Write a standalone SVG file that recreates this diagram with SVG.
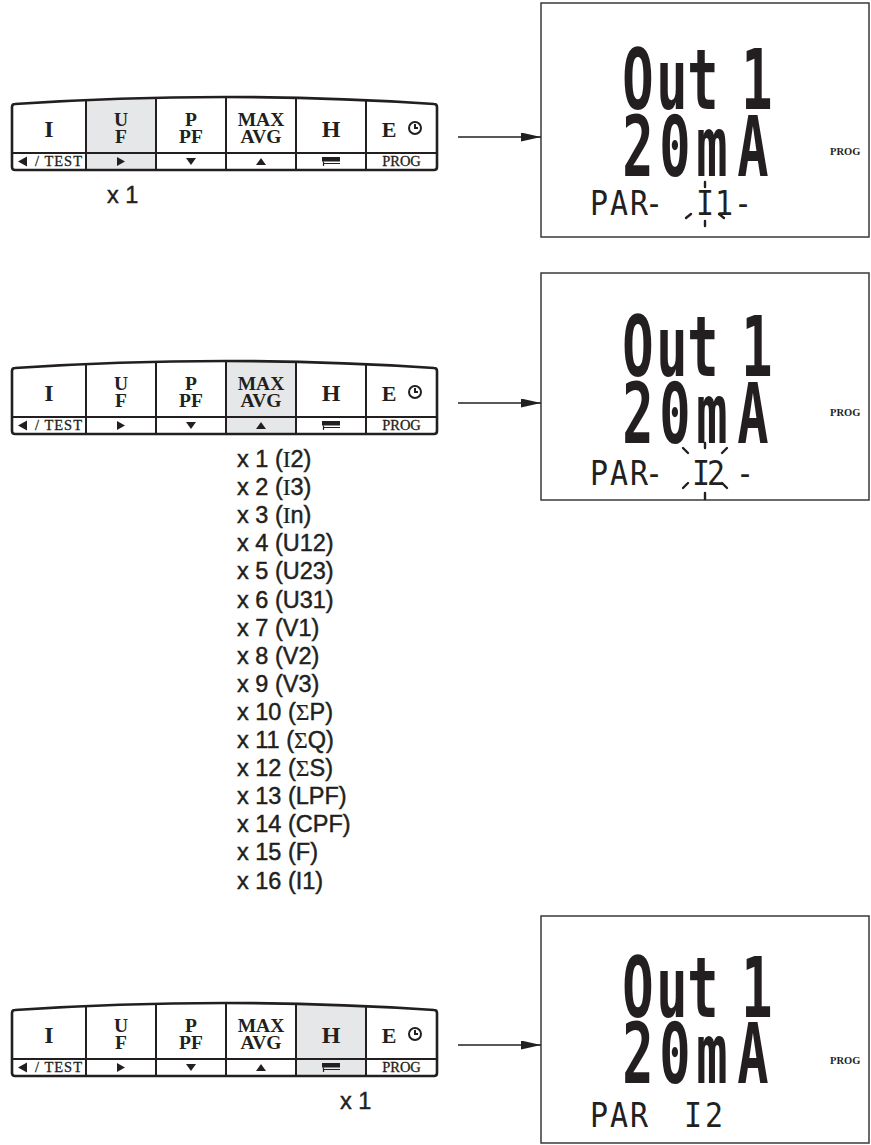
<svg xmlns="http://www.w3.org/2000/svg" width="871" height="1145" viewBox="0 0 871 1145">
<style>
.bg{fill:#fff}
.kb{fill:none;stroke:#231f20;stroke-width:2.6;stroke-linejoin:round}
.kd{fill:none;stroke:#231f20;stroke-width:2}
.hl{fill:#e6e7e8}
.k1{font-family:"Liberation Serif",serif;font-weight:bold;font-size:24px;fill:#231f20;text-anchor:middle}
.ke{font-family:"Liberation Serif",serif;font-weight:bold;font-size:22px;fill:#231f20;text-anchor:middle}
.k2{font-family:"Liberation Serif",serif;font-weight:bold;font-size:19.5px;fill:#231f20;text-anchor:middle}
.ks{font-family:"Liberation Serif",serif;font-size:14.5px;fill:#231f20;stroke:#231f20;stroke-width:0.3}
.ksm{text-anchor:middle}
.ic{fill:#231f20}
.clk{fill:none;stroke:#231f20;stroke-width:2}
.lst{font-family:"Liberation Sans",Arial,sans-serif;font-size:23.5px;fill:#231f20;stroke:#231f20;stroke-width:0.45}
.sf{font-family:"Liberation Serif",serif;stroke-width:0.2}
.box{fill:#fff;stroke:#3a3a3a;stroke-width:1.5}
.dt{font-family:"DejaVu Sans Mono",monospace;fill:#231f20;text-anchor:middle}
.sb{font-weight:bold;font-size:52px}
.ss{font-weight:normal;font-size:30px}
.pg{font-family:"Liberation Serif",serif;font-weight:bold;font-size:10.5px;fill:#231f20}
.tk{stroke:#231f20;stroke-width:2.4;stroke-linecap:round;fill:none}
.ar{stroke:#231f20;stroke-width:1.5;fill:none}
</style>
<defs>
<marker id="ah" markerUnits="userSpaceOnUse" viewBox="0 0 20 9" refX="20" refY="4.5" markerWidth="20" markerHeight="9" orient="auto">
<path d="M0,0 L20,4.5 L0,9 Z" fill="#231f20"/>
</marker>
</defs>
<rect class="bg" x="0" y="0" width="871" height="1145"/>

<!-- Keypad 1 -->
<g id="keypad1">
<polygon class="hl" points="86,100.1 121,98.7 156,97.75 156,170 86,170"/>
<path class="kb" d="M12,167 V107 Q12,104 15,104 Q224.5,90 434,104 Q437,104 437,107 V167 Q437,170 434,170 H15 Q12,170 12,167 Z"/>
<path class="kd" d="M12,153 H437 M86,100.1 V170 M156,97.75 V170 M226,97 V170 M296,97.8 V170 M366,100.2 V170"/>
<text class="k1" x="49" y="137">I</text>
<text class="k2"><tspan x="121" y="126">U</tspan><tspan x="121" y="143">F</tspan></text>
<text class="k2"><tspan x="191" y="126">P</tspan><tspan x="191" y="143">PF</tspan></text>
<text class="k2"><tspan x="261" y="126">MAX</tspan><tspan x="261" y="143">AVG</tspan></text>
<text class="k1" x="331" y="137">H</text>
<text class="ke" x="389" y="137">E</text>
<circle class="clk" cx="415" cy="128" r="6"/><path class="clk" d="M415,124 V128 H418" stroke-width="1.6"/>
<polygon class="ic" points="18,161.5 27,156.5 27,166.5"/>
<text class="ks" x="35" y="166.3" textLength="47" lengthAdjust="spacing">/ TEST</text>
<polygon class="ic" points="117,157 117,166 125,161.5"/>
<polygon class="ic" points="186,158 196,158 191,165"/>
<polygon class="ic" points="256,165 266,165 261,158"/>
<rect class="ic" x="322" y="157" width="18" height="4.5"/>
<path d="M340,163.5 H323.5 M323.5,161.5 V166" stroke="#231f20" stroke-width="1.2" fill="none"/>
<text class="ks ksm" x="401.5" y="166.3">PROG</text>
</g>
<text id="count1" class="lst" x="107" y="203">x 1</text>

<!-- Display 1 -->
<g id="display1">
<rect class="box" x="541" y="3" width="328" height="234"/>
<text class="dt sb" transform="scale(1,1.6)"><tspan x="638 672 703 733 757" y="68.13">Out 1</tspan><tspan x="638 675 712 753" y="110">20mA</tspan></text>
<text class="dt ss" transform="scale(1,1.15)" x="599 619 639 654 705 724 743" y="186.96">PAR-I1-</text>
<path class="tk" d="M705,182 V187 M705,221 V226 M686,218 L691,214 M719,214 L724,218"/>
<text class="pg" x="830" y="155">PROG</text>
</g>

<!-- Keypad 2 -->
<g id="keypad2">
<polygon class="hl" points="226,361 261,361.2 296,361.8 296,434 226,434"/>
<path class="kb" d="M12,431 V371 Q12,368 15,368 Q224.5,354 434,368 Q437,368 437,371 V431 Q437,434 434,434 H15 Q12,434 12,431 Z"/>
<path class="kd" d="M12,417 H437 M86,364.1 V434 M156,361.75 V434 M226,361 V434 M296,361.8 V434 M366,364.2 V434"/>
<text class="k1" x="49" y="401">I</text>
<text class="k2"><tspan x="121" y="390">U</tspan><tspan x="121" y="407">F</tspan></text>
<text class="k2"><tspan x="191" y="390">P</tspan><tspan x="191" y="407">PF</tspan></text>
<text class="k2"><tspan x="261" y="390">MAX</tspan><tspan x="261" y="407">AVG</tspan></text>
<text class="k1" x="331" y="401">H</text>
<text class="ke" x="389" y="401">E</text>
<circle class="clk" cx="415" cy="392" r="6"/><path class="clk" d="M415,388 V392 H418" stroke-width="1.6"/>
<polygon class="ic" points="18,425.5 27,420.5 27,430.5"/>
<text class="ks" x="35" y="430.3" textLength="47" lengthAdjust="spacing">/ TEST</text>
<polygon class="ic" points="117,421 117,430 125,425.5"/>
<polygon class="ic" points="186,422 196,422 191,429"/>
<polygon class="ic" points="256,429 266,429 261,422"/>
<rect class="ic" x="322" y="421" width="18" height="4.5"/>
<path d="M340,427.5 H323.5 M323.5,425.5 V430" stroke="#231f20" stroke-width="1.2" fill="none"/>
<text class="ks ksm" x="401.5" y="430.3">PROG</text>
</g>

<g id="list">
<text class="lst" x="237" y="467">x 1 (<tspan class="sf">I</tspan>2)</text>
<text class="lst" x="237" y="495.1">x 2 (<tspan class="sf">I</tspan>3)</text>
<text class="lst" x="237" y="523.2">x 3 (<tspan class="sf">I</tspan>n)</text>
<text class="lst" x="237" y="551.3">x 4 (U12)</text>
<text class="lst" x="237" y="579.4">x 5 (U23)</text>
<text class="lst" x="237" y="607.5">x 6 (U31)</text>
<text class="lst" x="237" y="635.6">x 7 (V1)</text>
<text class="lst" x="237" y="663.7">x 8 (V2)</text>
<text class="lst" x="237" y="691.8">x 9 (V3)</text>
<text class="lst" x="237" y="719.9">x 10 (<tspan class="sf">Σ</tspan>P)</text>
<text class="lst" x="237" y="748">x 11 (<tspan class="sf">Σ</tspan>Q)</text>
<text class="lst" x="237" y="776.1">x 12 (<tspan class="sf">Σ</tspan>S)</text>
<text class="lst" x="237" y="804.2">x 13 (LPF)</text>
<text class="lst" x="237" y="832.3">x 14 (CPF)</text>
<text class="lst" x="237" y="860.4">x 15 (F)</text>
<text class="lst" x="237" y="888.5">x 16 (I1)</text>
</g>

<!-- Display 2 -->
<g id="display2">
<rect class="box" x="541" y="273" width="328" height="227"/>
<text class="dt sb" transform="scale(1,1.6)"><tspan x="638 672 703 733 757" y="235">Out 1</tspan><tspan x="638 675 712 753" y="276.88">20mA</tspan></text>
<text class="dt ss" transform="scale(1,1.15)" x="599 619 639 654 701 716 745" y="421.74">PAR-I2-</text>
<path class="tk" d="M705,443 V448 M683,448 L688,453 M727,448 L722,453 M683,488 L688,483 M727,488 L722,483 M705,493 V499"/>
<text class="pg" x="830" y="416">PROG</text>
</g>

<!-- Keypad 3 -->
<g id="keypad3">
<polygon class="hl" points="296,1003.8 331,1004.8 366,1006.2 366,1076 296,1076"/>
<path class="kb" d="M12,1073 V1013 Q12,1010 15,1010 Q224.5,996 434,1010 Q437,1010 437,1013 V1073 Q437,1076 434,1076 H15 Q12,1076 12,1073 Z"/>
<path class="kd" d="M12,1059 H437 M86,1006.1 V1076 M156,1003.75 V1076 M226,1003 V1076 M296,1003.8 V1076 M366,1006.2 V1076"/>
<text class="k1" x="49" y="1043">I</text>
<text class="k2"><tspan x="121" y="1032">U</tspan><tspan x="121" y="1049">F</tspan></text>
<text class="k2"><tspan x="191" y="1032">P</tspan><tspan x="191" y="1049">PF</tspan></text>
<text class="k2"><tspan x="261" y="1032">MAX</tspan><tspan x="261" y="1049">AVG</tspan></text>
<text class="k1" x="331" y="1043">H</text>
<text class="ke" x="389" y="1043">E</text>
<circle class="clk" cx="415" cy="1034" r="6"/><path class="clk" d="M415,1030 V1034 H418" stroke-width="1.6"/>
<polygon class="ic" points="18,1067.5 27,1062.5 27,1072.5"/>
<text class="ks" x="35" y="1072.3" textLength="47" lengthAdjust="spacing">/ TEST</text>
<polygon class="ic" points="117,1063 117,1072 125,1067.5"/>
<polygon class="ic" points="186,1064 196,1064 191,1071"/>
<polygon class="ic" points="256,1071 266,1071 261,1064"/>
<rect class="ic" x="322" y="1063" width="18" height="4.5"/>
<path d="M340,1069.5 H323.5 M323.5,1067.5 V1072" stroke="#231f20" stroke-width="1.2" fill="none"/>
<text class="ks ksm" x="401.5" y="1072.3">PROG</text>
</g>
<text id="count3" class="lst" x="340" y="1109">x 1</text>

<!-- Display 3 -->
<g id="display3">
<rect class="box" x="541" y="916" width="328" height="227"/>
<text class="dt sb" transform="scale(1,1.6)"><tspan x="638 672 703 733 757" y="635.63">Out 1</tspan><tspan x="638 675 712 753" y="676.88">20mA</tspan></text>
<text class="dt ss" transform="scale(1,1.15)" x="599 619 639 666 693 714" y="980">PAR I2</text>
<text class="pg" x="830" y="1064">PROG</text>
</g>

<g id="connectors">
<line class="ar" x1="458" y1="137" x2="541" y2="137" marker-end="url(#ah)"/>
<line class="ar" x1="458" y1="403" x2="541" y2="403" marker-end="url(#ah)"/>
<line class="ar" x1="458" y1="1045" x2="541" y2="1045" marker-end="url(#ah)"/>
</g>
</svg>
